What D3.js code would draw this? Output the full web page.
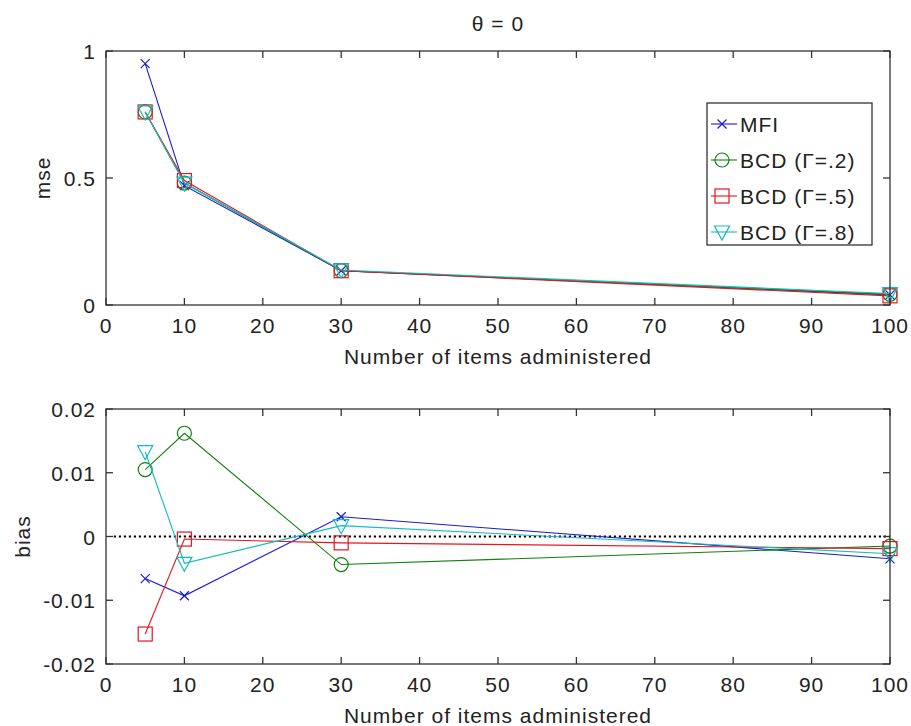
<!DOCTYPE html>
<html>
<head>
<meta charset="utf-8">
<script src="https://cdn.jsdelivr.net/npm/d3@7"></script>
<style>
  body { margin: 0; background: #fff; }
  svg { display: block; }
  text { font-family: "Liberation Sans", Arial, sans-serif; fill: #222; letter-spacing: 1px; }
</style>
</head>
<body>
<svg id="chart" width="911" height="726"></svg>
<script>
// ---- data ----
const items = [5, 10, 30, 100];
const seriesNames = ["MFI", "BCD (Γ=.2)", "BCD (Γ=.5)", "BCD (Γ=.8)"];
const mseMFI  = [0.95, 0.47, 0.135, 0.040];
const mseBCD2 = [0.76, 0.48, 0.135, 0.042];
const mseBCD5 = [0.76, 0.49, 0.135, 0.036];
const mseBCD8 = [0.76, 0.48, 0.138, 0.045];
const biasMFI  = [-0.0066, -0.0093, 0.0031, -0.0035];
const biasBCD2 = [0.0105, 0.0162, -0.0044, -0.0015];
const biasBCD5 = [-0.0153, -0.0004, -0.0010, -0.0019];
const biasBCD8 = [0.0133, -0.0042, 0.0017, -0.0027];
const xTicks = [0, 10, 20, 30, 40, 50, 60, 70, 80, 90, 100];
const mseTicks = [0, 0.5, 1];
const biasTicks = [-0.02, -0.01, 0, 0.01, 0.02];
const mseTickLabels = ["0", "0.5", "1"];
const biasTickLabels = ["-0.02", "-0.01", "0", "0.01", "0.02"];
const titleText = "θ = 0";
const xLabel = "Number of items administered";

const colors = ["#1a1ad0", "#108010", "#e8141e", "#10bcc0"];
const markers = ["x", "circle", "square", "triangleDown"];

const svg = d3.select("#chart");
const L = 106, R = 890;
const panels = [
  { top: 51, bottom: 305, domain: [0, 1], ticks: mseTicks, labels: mseTickLabels, ylabel: "mse", ylabX: 50,
    data: [mseMFI, mseBCD2, mseBCD5, mseBCD8] },
  { top: 409, bottom: 664, domain: [-0.02, 0.02], ticks: biasTicks, labels: biasTickLabels, ylabel: "bias", ylabX: 30,
    data: [biasMFI, biasBCD2, biasBCD5, biasBCD8] }
];

function drawMarker(g, type, cx, cy, color) {
  if (type === "x") {
    const s = 4.5;
    g.append("path").attr("d", `M${cx-s},${cy-s}L${cx+s},${cy+s}M${cx-s},${cy+s}L${cx+s},${cy-s}`)
      .attr("stroke", color).attr("stroke-width", 1.2).attr("fill", "none");
  } else if (type === "circle") {
    g.append("circle").attr("cx", cx).attr("cy", cy).attr("r", 7)
      .attr("stroke", color).attr("stroke-width", 1.2).attr("fill", "none");
  } else if (type === "square") {
    g.append("rect").attr("x", cx - 7).attr("y", cy - 7).attr("width", 14).attr("height", 14)
      .attr("stroke", color).attr("stroke-width", 1.2).attr("fill", "none");
  } else if (type === "triangleDown") {
    g.append("path").attr("d", `M${cx-7.5},${cy-6}L${cx+7.5},${cy-6}L${cx},${cy+8}Z`)
      .attr("stroke", color).attr("stroke-width", 1.2).attr("fill", "none");
  }
}

const x = d3.scaleLinear().domain([0, 100]).range([L, R]);

panels.forEach((p, pi) => {
  const y = d3.scaleLinear().domain(p.domain).range([p.bottom, p.top]);
  const g = svg.append("g");
  const tickLen = 7;
  const axisColor = "#333";

  if (pi === 1) {
    g.append("line").attr("x1", x(1)).attr("x2", x(100)).attr("y1", y(0)).attr("y2", y(0))
      .attr("stroke", "#000").attr("stroke-width", 2.2).attr("stroke-dasharray", "2.2,2.8");
  }

  const line = d3.line().x((d, i) => x(items[i])).y(d => y(d));
  p.data.forEach((vals, si) => {
    g.append("path").datum(vals).attr("d", line)
      .attr("fill", "none").attr("stroke", colors[si]).attr("stroke-width", 1.1);
    vals.forEach((v, i) => drawMarker(g, markers[si], x(items[i]), y(v), colors[si]));
  });

  g.append("rect").attr("x", L).attr("y", p.top).attr("width", R - L).attr("height", p.bottom - p.top)
    .attr("fill", "none").attr("stroke", axisColor).attr("stroke-width", 1.3);

  xTicks.forEach(t => {
    g.append("line").attr("x1", x(t)).attr("x2", x(t)).attr("y1", p.bottom).attr("y2", p.bottom - tickLen)
      .attr("stroke", axisColor).attr("stroke-width", 1.3);
    g.append("line").attr("x1", x(t)).attr("x2", x(t)).attr("y1", p.top).attr("y2", p.top + tickLen)
      .attr("stroke", axisColor).attr("stroke-width", 1.3);
    g.append("text").attr("x", x(t)).attr("y", p.bottom + 28).attr("text-anchor", "middle")
      .attr("font-size", 21).text(t);
  });
  p.ticks.forEach((t, i) => {
    g.append("line").attr("x1", L).attr("x2", L + tickLen).attr("y1", y(t)).attr("y2", y(t))
      .attr("stroke", axisColor).attr("stroke-width", 1.3);
    g.append("line").attr("x1", R).attr("x2", R - tickLen).attr("y1", y(t)).attr("y2", y(t))
      .attr("stroke", axisColor).attr("stroke-width", 1.3);
    g.append("text").attr("x", L - 10).attr("y", y(t) + 8).attr("text-anchor", "end")
      .attr("font-size", 21).text(p.labels[i]);
  });

  g.append("text").attr("x", (L + R) / 2).attr("y", p.bottom + 59).attr("text-anchor", "middle")
    .attr("font-size", 21).text(xLabel);
  g.append("text").attr("transform", `translate(${p.ylabX},${(p.top + p.bottom) / 2}) rotate(-90)`)
    .attr("text-anchor", "middle").attr("font-size", 21).text(p.ylabel);
});

svg.append("text").attr("x", (L + R) / 2).attr("y", 31).attr("text-anchor", "middle")
  .attr("font-size", 21).text(titleText);

// legend
const lg = svg.append("g");
const lx = 707, ly = 103, lw = 165, lh = 142;
lg.append("rect").attr("x", lx).attr("y", ly).attr("width", lw).attr("height", lh)
  .attr("fill", "#fff").attr("stroke", "#333").attr("stroke-width", 1.3);
seriesNames.forEach((name, i) => {
  const yy = ly + 21 + i * 36;
  lg.append("line").attr("x1", lx + 4).attr("x2", lx + 30).attr("y1", yy).attr("y2", yy)
    .attr("stroke", colors[i]).attr("stroke-width", 1.1);
  drawMarker(lg, markers[i], lx + 15, yy, colors[i]);
  lg.append("text").attr("x", lx + 33).attr("y", yy + 8).attr("font-size", 21).text(name);
});
</script>
</body>
</html>
